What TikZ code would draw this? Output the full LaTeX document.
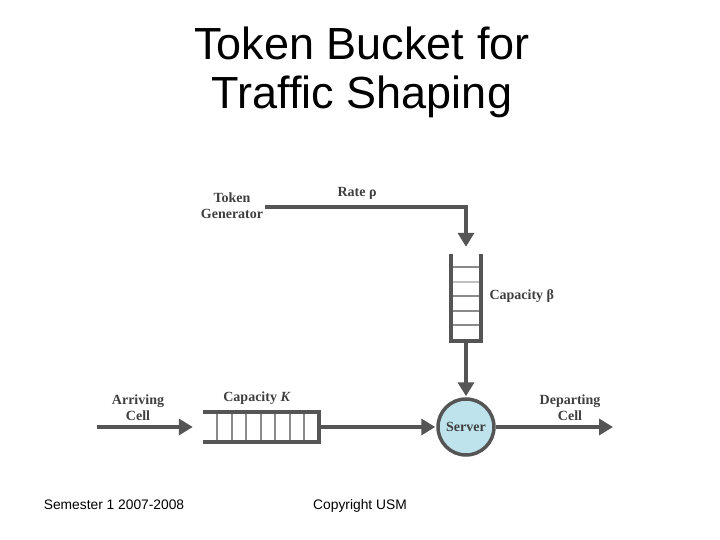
\documentclass[tikz,border=0pt]{standalone}
\usepackage{fontspec}
\setmainfont{Liberation Sans}
\newfontfamily\diagfont{Liberation Serif}
\usetikzlibrary{arrows.meta}
\definecolor{lineg}{HTML}{555555}
\definecolor{textg}{HTML}{3F3F3F}
\definecolor{thing}{HTML}{8A8A8A}
\definecolor{serverfill}{HTML}{BFE3EC}
\tikzset{
  flow/.style={draw=lineg, line width=4pt, -{Triangle[width=16pt,length=14pt]}},
  wall/.style={draw=lineg, line width=4pt},
  divider/.style={draw=thing, line width=1.4pt},
  lbl/.style={font=\diagfont\bfseries\fontsize{14}{16}\selectfont, text=textg, align=center},
  titletext/.style={font=\fontsize{45}{50}\selectfont, text=black},
  foot/.style={font=\fontsize{13.8}{16}\selectfont, text=black, anchor=base}
}
\begin{document}
\begin{tikzpicture}[x=1pt,y=-1pt]
\useasboundingbox (0,0) rectangle (720,540);
% title
\node[titletext] (t1) at (362,43) {Token Bucket for};
\node[titletext] (t2) at (362,97) {Traffic Shaping};
% footer
\node[foot] (f1) at (114,509) {Semester 1 2007-2008};
\node[foot] (f2) at (360,509) {Copyright USM};

% nodes
\node[lbl, inner sep=0pt] (tg) at (232,206) {Token\\Generator};
\node[lbl] (rate) at (357,193) {Rate ρ};
\node[minimum width=29pt, minimum height=87pt, inner sep=0pt] (bucket) at (466,297.5) {};
\node[lbl, anchor=west] (capb) at (486,296) {Capacity β};
\node[minimum width=116pt, minimum height=29pt, inner sep=0pt] (queue) at (261,427) {};
\node[lbl] (capk) at (257,398) {Capacity \textit{K}};
\node[circle, draw=lineg, line width=3.5pt, fill=serverfill, minimum size=56pt, inner sep=0pt,
      font=\diagfont\bfseries\fontsize{14}{16}\selectfont, text=textg] (server) at (466,427) {Server};
\node[lbl] (arr) at (138,408) {Arriving\\Cell};
\node[lbl] (dep) at (570,408) {Departing\\Cell};
\coordinate (arrstart) at (97,427);
\coordinate (depend) at (613,427);

% bucket drawing
\foreach \yy in {267,296,311,325} {
  \draw[divider] (bucket.west |- 0,\yy) -- (bucket.east |- 0,\yy);
}
\draw[draw=lightgray, line width=1.4pt] (bucket.west |- 0,282) -- (bucket.east |- 0,282);
\draw[wall] (bucket.north west) -- (bucket.south west) -- (bucket.south east) -- (bucket.north east);

% queue drawing
\foreach \xx in {217,232,246,261,275,290,304} {
  \draw[divider] (\xx,0 |- queue.north) -- (\xx,0 |- queue.south);
}
\draw[wall] (queue.north west) -- (queue.north east) -- (queue.south east) -- (queue.south west);

% connectors
\draw[flow, shorten >=7pt] ([xshift=2pt]tg.east |- 0,207) -| (bucket.north);
\draw[flow, shorten >=1pt] (bucket.south) -- (server.north);
\draw[flow, shorten >=1pt] (queue.east) -- (server.west);
\draw[flow, shorten >=10pt] (arrstart) -- (queue.west);
\draw[flow] (server.east) -- (depend);
\end{tikzpicture}
\end{document}
